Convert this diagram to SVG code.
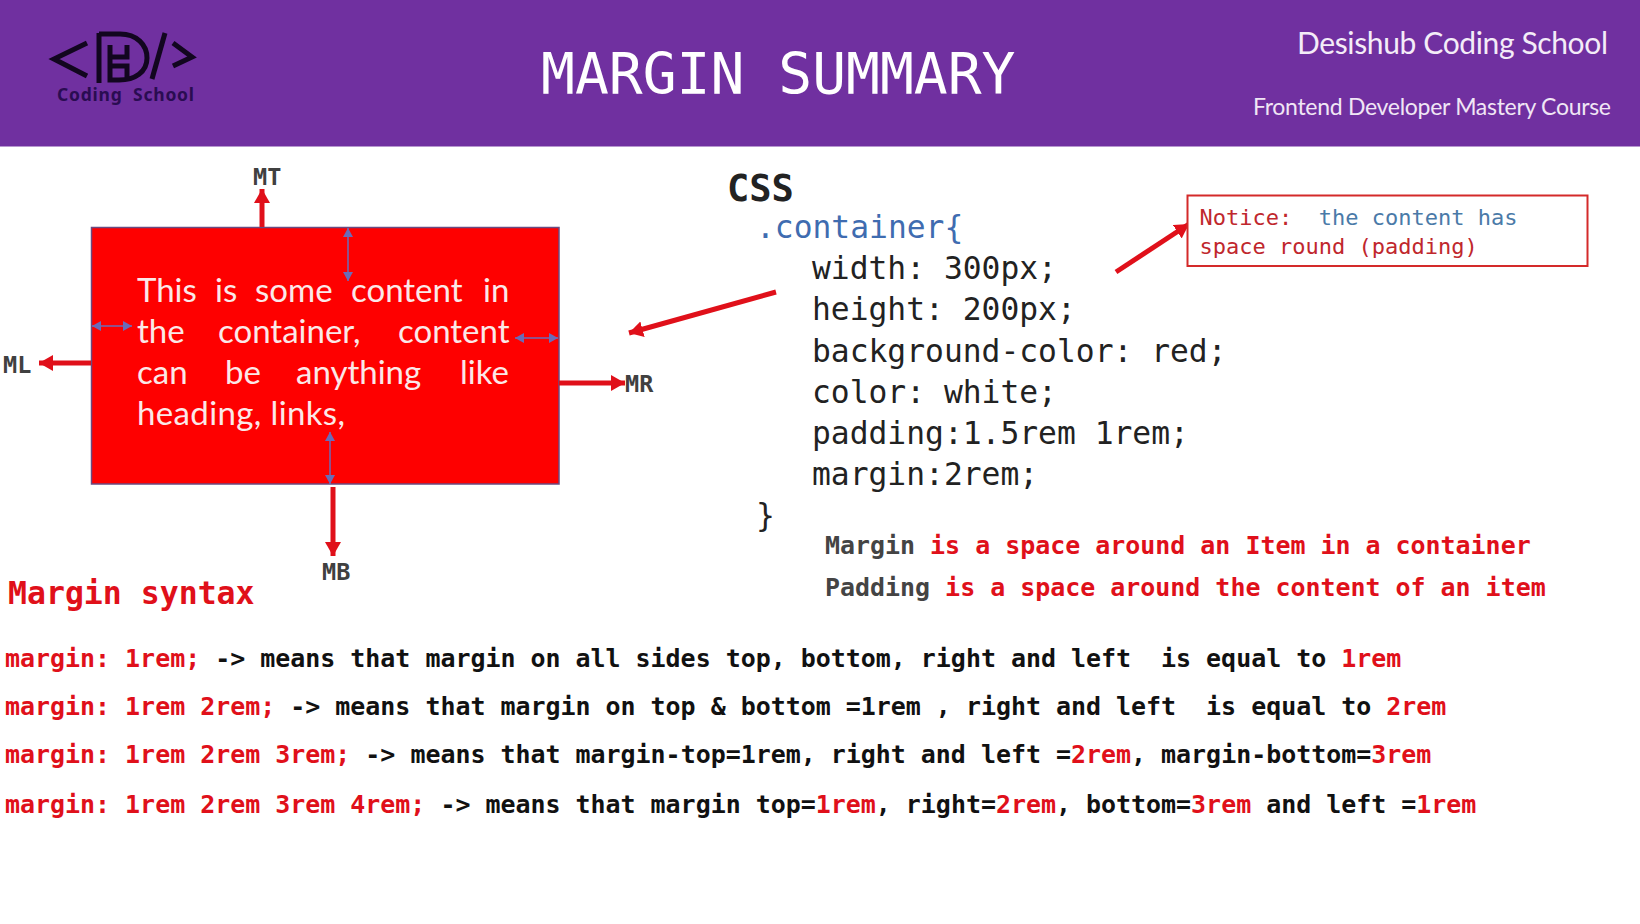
<svg xmlns="http://www.w3.org/2000/svg" width="1640" height="924" viewBox="0 0 1640 924">
<style>
text{white-space:pre}
.m{font-family:"DejaVu Sans Mono","Liberation Mono",monospace}
.s{font-family:Lato,"Open Sans",sans-serif}
.l{font-size:24.95px;font-weight:700;fill:#111}
.r{fill:#e0101a}
.lab{font-size:23.5px;font-weight:700;fill:#404040}
.code{font-size:31.3px;fill:#222}
.box{font-size:33px;fill:#fbe8e8}
.ra{stroke:#e0101a;stroke-width:5;fill:none;marker-end:url(#rh)}
.ba{stroke:#6a6cb8;stroke-width:1.5;fill:none;marker-start:url(#bh);marker-end:url(#bh)}
.lg{stroke:#12061f;fill:none;stroke-width:5}
</style>
<defs>
<marker id="rh" markerUnits="userSpaceOnUse" markerWidth="18" markerHeight="18" refX="14" refY="8" orient="auto"><path d="M0 0L14 8L0 16z" fill="#e0101a"/></marker>
<marker id="bh" markerUnits="userSpaceOnUse" markerWidth="12" markerHeight="12" refX="9" refY="5" orient="auto-start-reverse"><path d="M0 0L9 5L0 10z" fill="#6a6cb8"/></marker>
</defs>
<rect width="1640" height="924" fill="#fff"/>
<g id="header">
<rect width="1640" height="146.500" fill="#7030a0"/>
<text class="m" x="541" y="94" font-size="56.3" fill="#fff">MARGIN SUMMARY</text>
<text class="s" x="1297" y="54" font-size="30" fill="#f4ecf8" textLength="311">Desishub Coding School</text>
<text class="s" x="1253" y="115" font-size="23" fill="#f0e6f5" textLength="358">Frontend Developer Mastery Course</text>
</g>
<g id="logo">
<path class="lg" d="M87 43L54 59L87 76" stroke-width="6"/>
<path class="lg" d="M99 33V83M99 34H120C137 34 147 45 147 58C147 72 135 80 119 80H110V45M127 45V57H110M127 80V66H112" stroke-width="4.5"/>
<path class="lg" d="M165 33L152 79" stroke-width="6"/>
<path class="lg" d="M173 43L192 57L173 66" stroke-width="6"/>
<text x="57" y="101" font-family="'Noto Sans',sans-serif" font-size="17.500" font-weight="700" fill="#2a0c52" textLength="137">Coding  School</text>
</g>
<g id="container">
<rect x="91.500" y="227.500" width="467.500" height="256.500" fill="#fe0000" stroke="#6a4a80" stroke-width="1.500"/>
<text class="s box" y="302"><tspan x="137">This</tspan><tspan x="215">is</tspan><tspan x="255">some</tspan><tspan x="351">content</tspan><tspan x="483">in</tspan></text>
<text class="s box" y="343"><tspan x="137">the</tspan><tspan x="218">container,</tspan><tspan x="398">content</tspan></text>
<text class="s box" y="384"><tspan x="137">can</tspan><tspan x="225">be</tspan><tspan x="296">anything</tspan><tspan x="460">like</tspan></text>
<text class="s box" x="137" y="425" textLength="208">heading, links,</text>
</g>
<g id="connectors">
<path class="ra" d="M262 227V189"/>
<path class="ra" d="M91 363H39"/>
<path class="ra" d="M559 383H625"/>
<path class="ra" d="M333 487V556"/>
<path class="ra" d="M776 292L629 333"/>
<path class="ra" d="M1116 272L1189 224"/>
<path class="ba" d="M348 228V281"/>
<path class="ba" d="M92 326H132"/>
<path class="ba" d="M515 338H558"/>
<path class="ba" d="M330 432V484"/>
</g>
<g id="labels">
<text class="m lab" x="253" y="185">MT</text>
<text class="m lab" x="3" y="373">ML</text>
<text class="m lab" x="625" y="392">MR</text>
<text class="m lab" x="322" y="580">MB</text>
</g>
<g id="css">
<text class="m" x="727" y="201" font-size="37" font-weight="700" fill="#222">CSS</text>
<text class="m code" x="756" y="238" style="fill:#3f6cb0">.container{</text>
<text class="m code" x="812" y="279">width: 300px;</text>
<text class="m code" x="812" y="320">height: 200px;</text>
<text class="m code" x="812" y="361.500">background-color: red;</text>
<text class="m code" x="812" y="403">color: white;</text>
<text class="m code" x="812" y="444">padding:1.5rem 1rem;</text>
<text class="m code" x="812" y="485">margin:2rem;</text>
<text class="m code" x="756" y="526">}</text>
</g>
<g id="notice">
<rect x="1187.500" y="195.500" width="400" height="70.500" fill="#fff" stroke="#d42a2a" stroke-width="2"/>
<text class="m" x="1199.500" y="225" font-size="22" fill="#c0272d">Notice:  <tspan fill="#4a7aa8">the content has</tspan></text>
<text class="m" x="1199.500" y="254" font-size="22" fill="#c0272d">space round (padding)</text>
</g>
<g id="definitions">
<text class="m l" x="825" y="553.500" style="fill:#e0101a"><tspan fill="#444">Margin</tspan> is a space around an Item in a container</text>
<text class="m l" x="825" y="595.500" style="fill:#e0101a"><tspan fill="#444">Padding</tspan> is a space around the content of an item</text>
</g>
<g id="syntax">
<text class="m r" x="8" y="604" font-size="31.500" font-weight="700">Margin syntax</text>
<text class="m l" x="5" y="667"><tspan class="r">margin: 1rem;</tspan> -&gt; means that margin on all sides top, bottom, right and left  is equal to <tspan class="r">1rem</tspan></text>
<text class="m l" x="5" y="715"><tspan class="r">margin: 1rem 2rem;</tspan> -&gt; means that margin on top &amp; bottom =1rem , right and left  is equal to <tspan class="r">2rem</tspan></text>
<text class="m l" x="5" y="763"><tspan class="r">margin: 1rem 2rem 3rem;</tspan> -&gt; means that margin-top=1rem, right and left =<tspan class="r">2rem</tspan>, margin-bottom=<tspan class="r">3rem</tspan></text>
<text class="m l" x="5" y="812.500"><tspan class="r">margin: 1rem 2rem 3rem 4rem;</tspan> -&gt; means that margin top=<tspan class="r">1rem</tspan>, right=<tspan class="r">2rem</tspan>, bottom=<tspan class="r">3rem</tspan> and left =<tspan class="r">1rem</tspan></text>
</g>
</svg>
